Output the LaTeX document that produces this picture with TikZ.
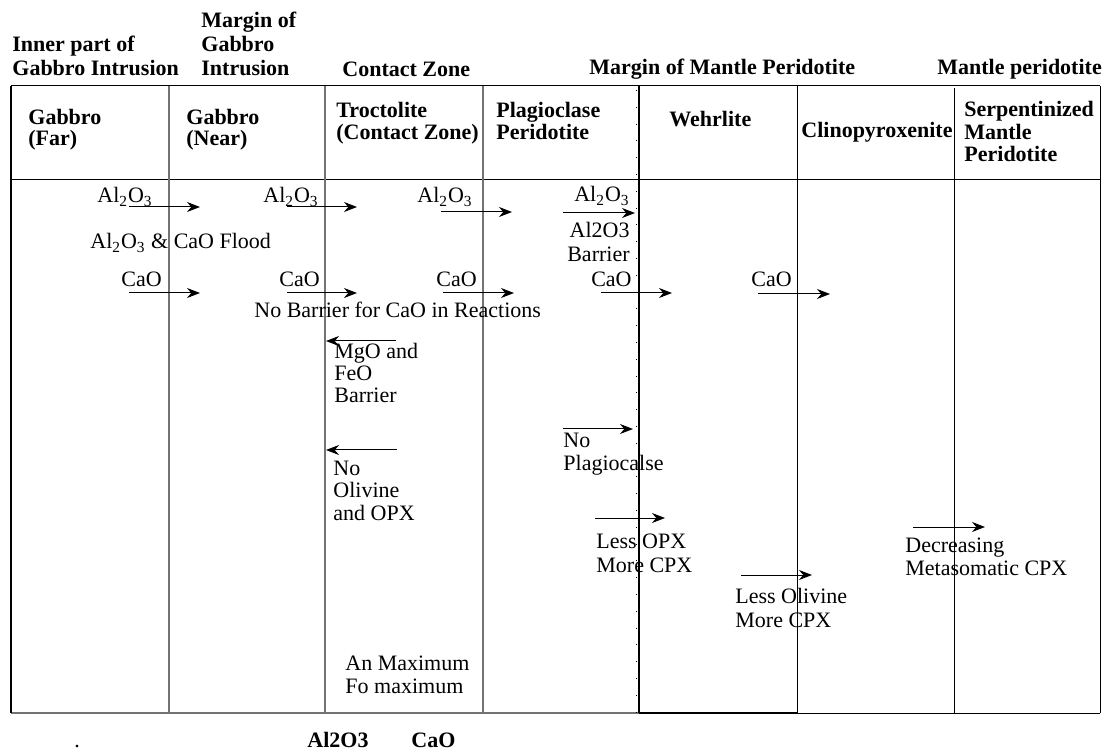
\documentclass[tikz,border=0pt]{standalone}
\usepackage{fontspec}
\setmainfont{Liberation Serif}
\usetikzlibrary{arrows.meta}
\tikzset{
  t/.style={inner sep=0pt, anchor=base west, font=\fontsize{11}{13}\selectfont},
  te/.style={t, anchor=base east},
  tb/.style={t, font=\fontsize{11}{13}\selectfont\bfseries},
  arr/.style={line width=0.5pt, -{Stealth[length=6.5pt,width=5pt]}},
  gline/.style={line width=0.75pt, draw=black!55},
  bline/.style={line width=0.5pt, draw=black},
  wline/.style={line width=1pt, draw=black},
}
\newcommand{\AlO}{Al\textsubscript{2}O\textsubscript{3}}
\begin{document}
\begin{tikzpicture}[x=0.5pt,y=-0.5pt]
\useasboundingbox (0,0) rectangle (1104,754);
% ---------- table rules ----------
\draw[bline] (11,86) -- (1100,86);
\draw[bline] (11,180) -- (1100,180);
\draw[gline] (11,713) -- (639,713);
\draw[wline] (639,713) -- (797,713);
\draw[bline] (797,713) -- (1100,713);
\draw[line width=0.8pt] (11,86) -- (11,713);
\draw[gline] (169,86) -- (169,713);
\draw[gline] (325,86) -- (325,713);
\draw[gline] (483,86) -- (483,713);
\draw[wline] (639,86) -- (639,713);
\draw[line width=0.6pt, dash pattern=on 0.4pt off 8pt] (636.5,90) -- (636.5,713);
\draw[bline] (797,86) -- (797,713);
\draw[bline] (954,88) -- (954,713);
\draw[bline] (1100,86) -- (1100,713);
% ---------- top headings ----------
\node[tb] (h1a) at (12,52) {Inner part of};
\node[tb] (h1b) at (12,76) {Gabbro Intrusion};
\node[tb] (h2a) at (201,28) {Margin of};
\node[tb] (h2b) at (201,52) {Gabbro};
\node[tb] (h2c) at (201,76) {Intrusion};
\node[tb] (h3) at (342,77) {Contact Zone};
\node[tb] (h4) at (589,75) {Margin of Mantle Peridotite};
\node[tb] (h5) at (937,75) {Mantle peridotite};
% ---------- column headings ----------
\node[tb] (c1a) at (28,125) {Gabbro};
\node[tb] (c1b) at (28,146) {(Far)};
\node[tb] (c2a) at (186,125) {Gabbro};
\node[tb] (c2b) at (186,146) {(Near)};
\node[tb] (c3a) at (336,118) {Troctolite};
\node[tb] (c3b) at (336,140) {(Contact Zone)};
\node[tb] (c4a) at (496,118) {Plagioclase};
\node[tb] (c4b) at (496,140) {Peridotite};
\node[tb] (c5) at (669,127) {Wehrlite};
\node[tb] (c6) at (801,138) {Clinopyroxenite};
\node[tb] (c7a) at (964,117) {Serpentinized};
\node[tb] (c7b) at (964,140) {Mantle};
\node[tb] (c7c) at (964,162) {Peridotite};
% ---------- Al2O3 row ----------
\node[t] (al1) at (97,203) {\AlO};
\node[t] (al2) at (263,203) {\AlO};
\node[t] (al3) at (417,203) {\AlO};
\node[te] (al4) at (630,202) {\AlO};
\coordinate (a1s) at (129,207); \coordinate (a1e) at (200,207);
\coordinate (a2s) at (287,207); \coordinate (a2e) at (357,207);
\coordinate (a3s) at (441,212); \coordinate (a3e) at (512,212);
\coordinate (a4s) at (563,213); \coordinate (a4e) at (635,213);
\draw[arr] (a1s) -- (a1e);
\draw[arr] (a2s) -- (a2e);
\draw[arr] (a3s) -- (a3e);
\draw[arr] (a4s) -- (a4e);
\node[t] (flood) at (90,249) {\AlO{} \& CaO Flood};
\node[te] (bar1) at (630,238) {Al2O3};
\node[te] (bar2) at (630,262) {Barrier};
% ---------- CaO row ----------
\node[t] (ca1) at (121,287) {CaO};
\node[t] (ca2) at (279,287) {CaO};
\node[t] (ca3) at (436,287) {CaO};
\node[te] (ca4) at (632,287) {CaO};
\node[t] (ca5) at (751,287) {CaO};
\coordinate (b1s) at (129,293); \coordinate (b1e) at (200,293);
\coordinate (b2s) at (287,293); \coordinate (b2e) at (357,293);
\coordinate (b3s) at (443,293); \coordinate (b3e) at (514,293);
\coordinate (b4s) at (601,293); \coordinate (b4e) at (672,293);
\coordinate (b5s) at (758,294); \coordinate (b5e) at (830,294);
\draw[arr] (b1s) -- (b1e);
\draw[arr] (b2s) -- (b2e);
\draw[arr] (b3s) -- (b3e);
\draw[arr] (b4s) -- (b4e);
\draw[arr] (b5s) -- (b5e);
\node[t] (nobar) at (254,318) {No Barrier for CaO in Reactions};
% ---------- MgO / FeO ----------
\coordinate (m1s) at (396,341); \coordinate (m1e) at (326,341);
\draw[arr] (m1s) -- (m1e);
\node[t] (mg1) at (334,358) {MgO and};
\node[t] (mg2) at (334,381) {FeO};
\node[t] (mg3) at (334,403) {Barrier};
% ---------- No Olivine ----------
\coordinate (o1s) at (397,450); \coordinate (o1e) at (326,450);
\draw[arr] (o1s) -- (o1e);
\node[t] (ol1) at (333,475) {No};
\node[t] (ol2) at (333,497) {Olivine};
\node[t] (ol3) at (333,520) {and OPX};
% ---------- No Plagioclase ----------
\coordinate (p1s) at (563,429); \coordinate (p1e) at (633,429);
\draw[arr] (p1s) -- (p1e);
\node[t] (pl1) at (563,447) {No};
\node[t] (pl2) at (563,471) {Plagiocalse};
% ---------- Less OPX ----------
\coordinate (x1s) at (595,518); \coordinate (x1e) at (665,518);
\draw[arr] (x1s) -- (x1e);
\node[t] (lo1) at (596,548) {Less OPX};
\node[t] (lo2) at (596,572) {More CPX};
% ---------- Less Olivine ----------
\coordinate (y1s) at (741,575); \coordinate (y1e) at (812,575);
\draw[arr] (y1s) -- (y1e);
\node[t] (lv1) at (735,603) {Less Olivine};
\node[t] (lv2) at (735,627) {More CPX};
% ---------- Decreasing ----------
\coordinate (z1s) at (913,527); \coordinate (z1e) at (985,527);
\draw[arr] (z1s) -- (z1e);
\node[t] (dc1) at (905,552) {Decreasing};
\node[t] (dc2) at (905,575) {Metasomatic CPX};
% ---------- maxima ----------
\node[t] (an1) at (345,670) {An Maximum};
\node[t] (an2) at (345,693) {Fo maximum};
% ---------- caption remnants ----------
\node[t] (dot) at (74,747) {.};
\node[tb] (cap1) at (307,747) {Al2O3};
\node[tb] (cap2) at (411,747) {CaO};
\end{tikzpicture}
\end{document}
